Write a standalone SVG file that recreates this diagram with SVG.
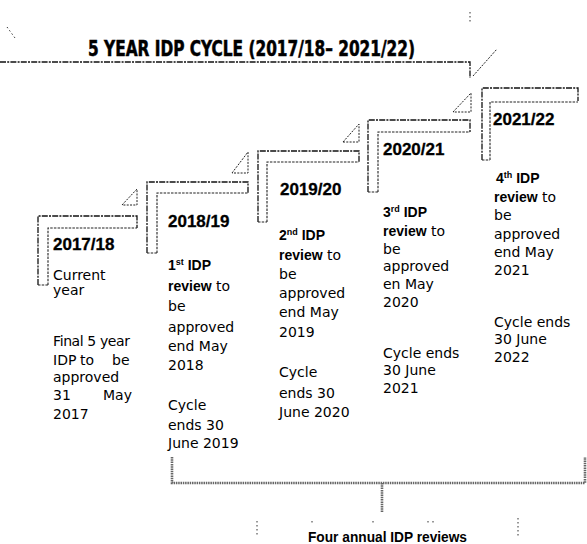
<svg xmlns="http://www.w3.org/2000/svg" width="587" height="544" viewBox="0 0 587 544">
<style>
.ln{fill:none;stroke:#111;stroke-width:1.3;stroke-dasharray:6 1.2 2 1.2}
.in{fill:none;stroke:#222;stroke-width:1.1;stroke-dasharray:2.5 1.2}
.tri{fill:none;stroke:#222;stroke-width:1;stroke-dasharray:2 1.3}
.br{fill:none;stroke:#666;stroke-width:2.6;stroke-dasharray:1.5 0.8}
.nz{fill:none;stroke:#333;stroke-width:1;stroke-dasharray:1.5 2.5}
.title{font-family:"DejaVu Sans Condensed","Liberation Sans",sans-serif;font-weight:bold;font-size:21px;fill:#000;stroke:#000;stroke-width:0.5}
.yr{font-family:"Liberation Sans",Arial,sans-serif;font-weight:bold;font-size:17px;fill:#000;stroke:#000;stroke-width:0.3}
.t{font-family:"DejaVu Sans",sans-serif;font-size:14px;fill:#000}
.b{font-family:"Liberation Sans",Arial,sans-serif;font-weight:bold;font-size:14px}
.sup{font-size:9px}
.foot{font-family:"Liberation Sans",Arial,sans-serif;font-weight:bold;font-size:14px;fill:#000}
</style>

<g id="title">
<text class="title" x="88" y="56" textLength="327" lengthAdjust="spacingAndGlyphs">5 YEAR IDP CYCLE (2017/18– 2021/22)</text>
<path class="ln" d="M0,62 H470 V78"/>
<path class="tri" d="M473,76 L497,49"/>
<path class="nz" d="M470,12 V23 M7,27 L15,38"/>
</g>

<g id="step-2017-18">
<path class="ln" d="M38,285 V216 H137 V228"/>
<path class="in" d="M48,285 V228 H137 M38,285 H48"/>
<path class="tri" d="M122,205 L137,189 V205 Z"/>
<text class="yr" x="53" y="250">2017/18</text>
<text class="t" x="53" y="280">Current</text>
<text class="t" x="53" y="295">year</text>
<text class="t" x="53" y="346" textLength="77" lengthAdjust="spacing">Final 5 year</text>
<text class="t" x="53" y="365">IDP</text>
<text class="t" x="80" y="365">to</text>
<text class="t" x="112" y="365">be</text>
<text class="t" x="53" y="382">approved</text>
<text class="t" x="53" y="400">31</text>
<text class="t" x="103" y="400">May</text>
<text class="t" x="53" y="419">2017</text>
</g>

<g id="step-2018-19">
<path class="ln" d="M147,253 V182 H248 V194"/>
<path class="in" d="M157,253 V193 H248 M147,253 H157"/>
<path class="tri" d="M232,173 L248,152 V173 Z"/>
<text class="yr" x="168" y="227">2018/19</text>
<text class="t" x="168" y="270"><tspan class="b">1<tspan class="sup" dy="-5">st</tspan><tspan dy="5"> IDP</tspan></tspan></text>
<text class="t" x="168" y="291"><tspan class="b">review</tspan> to</text>
<text class="t" x="168" y="311">be</text>
<text class="t" x="168" y="332">approved</text>
<text class="t" x="168" y="351">end May</text>
<text class="t" x="168" y="370">2018</text>
<text class="t" x="168" y="410">Cycle</text>
<text class="t" x="168" y="430">ends 30</text>
<text class="t" x="168" y="448">June 2019</text>
</g>

<g id="step-2019-20">
<path class="ln" d="M258,222 V151 H359 V163"/>
<path class="in" d="M267,222 V162 H359 M258,222 H267"/>
<path class="tri" d="M343,142 L359,124 V142 Z"/>
<text class="yr" x="280" y="195">2019/20</text>
<text class="t" x="279" y="240"><tspan class="b">2<tspan class="sup" dy="-5">nd</tspan><tspan dy="5"> IDP</tspan></tspan></text>
<text class="t" x="279" y="260"><tspan class="b">review</tspan> to</text>
<text class="t" x="279" y="279">be</text>
<text class="t" x="279" y="298">approved</text>
<text class="t" x="279" y="317">end May</text>
<text class="t" x="279" y="337">2019</text>
<text class="t" x="279" y="377">Cycle</text>
<text class="t" x="279" y="398">ends 30</text>
<text class="t" x="279" y="417">June 2020</text>
</g>

<g id="step-2020-21">
<path class="ln" d="M368,192 V120 H470 V133"/>
<path class="in" d="M378,192 V132 H470 M368,192 H378"/>
<path class="tri" d="M453,112 L471,93 V112 Z"/>
<text class="yr" x="383" y="155">2020/21</text>
<text class="t" x="383" y="217"><tspan class="b">3<tspan class="sup" dy="-5">rd</tspan><tspan dy="5"> IDP</tspan></tspan></text>
<text class="t" x="383" y="236"><tspan class="b">review</tspan> to</text>
<text class="t" x="383" y="254">be</text>
<text class="t" x="383" y="271">approved</text>
<text class="t" x="383" y="289">en May</text>
<text class="t" x="383" y="307">2020</text>
<text class="t" x="383" y="358">Cycle ends</text>
<text class="t" x="383" y="375">30 June</text>
<text class="t" x="383" y="393">2021</text>
</g>

<g id="step-2021-22">
<path class="ln" d="M482,160 V88 H578 V101"/>
<path class="in" d="M490,160 V102 H578 M482,160 H490"/>
<text class="yr" x="493" y="125">2021/22</text>
<text class="t" x="496" y="183"><tspan class="b">4<tspan class="sup" dy="-5">th</tspan><tspan dy="5"> IDP</tspan></tspan></text>
<text class="t" x="494" y="202"><tspan class="b">review</tspan> to</text>
<text class="t" x="494" y="220">be</text>
<text class="t" x="494" y="239">approved</text>
<text class="t" x="494" y="257">end May</text>
<text class="t" x="494" y="275">2021</text>
<text class="t" x="494" y="327">Cycle ends</text>
<text class="t" x="494" y="344">30 June</text>
<text class="t" x="494" y="362">2022</text>
</g>

<g id="connectors">
<path class="br" d="M172,457 V483 H585 V457"/>
<path class="br" d="M382,483 V512"/>
<path class="nz" d="M257,521 V536 M518,518 V537 M312,521 V523 M373,521 V523 M428,521 V523 M433,521 V523"/>
</g>

<g id="reviews-label">
<text class="foot" x="308" y="542" textLength="159" lengthAdjust="spacingAndGlyphs">Four annual IDP reviews</text>
</g>
</svg>
